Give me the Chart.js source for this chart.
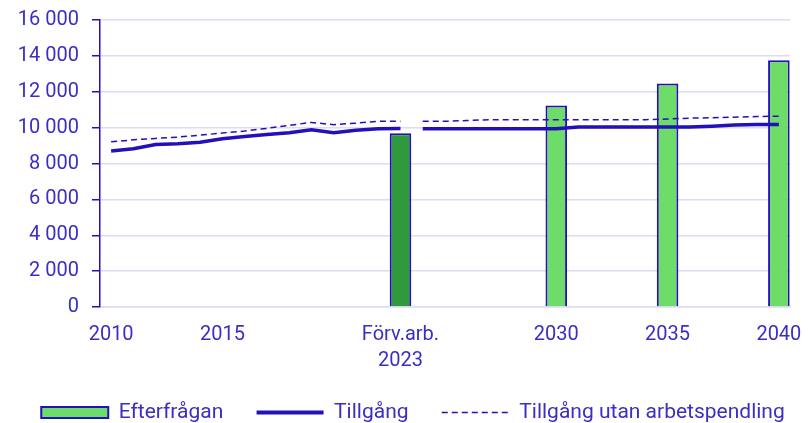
<html>
<head>
<script src="https://cdn.jsdelivr.net/npm/chart.js@4.4.1/dist/chart.umd.min.js"></script>
<style>
body { margin: 0; background: #ffffff; }
</style>
</head>
<body>
<canvas id="chart" width="808" height="423"></canvas>
<script>
var years = [2010, 2011, 2012, 2013, 2014, 2015, 2016, 2017, 2018, 2019, 2020,
             2021, 2022, 2023, 2024, 2025, 2026, 2027, 2028, 2029, 2030,
             2031, 2032, 2033, 2034, 2035, 2036, 2037, 2038, 2039, 2040];

// Efterfrågan (bars), only for 2023 and the forecast years
var demand = [null, null, null, null, null, null, null, null, null, null, null,
              null, null, 9680, null, null, null, null, null, null, 11230,
              null, null, null, null, 12460, null, null, null, null, 13760];

// Tillgång
var supply = [8700, 8820, 9060, 9100, 9190, 9380, 9510, 9620, 9720, 9880, 9720,
              9850, 9940, 9950, 9940, 9940, 9940, 9940, 9940, 9940, 9940,
              10030, 10030, 10030, 10030, 10030, 10030, 10080, 10140, 10170, 10170];

// Tillgång utan arbetspendling
var supplyNoCommute = [9210, 9320, 9400, 9470, 9580, 9700, 9810, 9960, 10130, 10290, 10160,
                       10250, 10350, 10350, 10350, 10350, 10400, 10440, 10440, 10440, 10440,
                       10440, 10440, 10440, 10440, 10480, 10530, 10550, 10580, 10620, 10640];

var tickYears = [2010, 2015, 2023, 2030, 2035, 2040];
var tickLabels = ['2010', '2015', ['Förv.arb.', '2023'], '2030', '2035', '2040'];
var yTicks = [0, 2000, 4000, 6000, 8000, 10000, 12000, 14000, 16000];
var legendNames = ['Efterfrågan', 'Tillgång', 'Tillgång utan arbetspendling'];

var blue = '#2410b8';
var textBlue = '#3a2ec4';
var lightGreen = '#6ddc68';
var darkGreen = '#2f9a3c';
var gridColor = '#dcdcf2';
var breakAfter = years.indexOf(2023); // no line between 2023 and 2024

function gapColor(c) {
  return function(ctx) { return ctx.p0DataIndex === breakAfter ? 'rgba(0,0,0,0)' : c; };
}

var fontFamily = 'Roboto, "Liberation Sans", sans-serif';
var spacer = '      '; // widens the gap between legend items

// nudge the legend a bit down and right, like the original
var legendShift = {
  id: 'legendShift',
  afterLayout: function(chart) {
    var l = chart.legend;
    l.left += 18; l.right += 18;
    l.top += 10; l.bottom += 10;
  }
};

new Chart(document.getElementById('chart'), {
  type: 'bar',
  data: {
    labels: years,
    datasets: [{
      type: 'bar',
      label: legendNames[0],
      data: demand,
      backgroundColor: function(ctx) { return years[ctx.dataIndex] === 2023 ? darkGreen : lightGreen; },
      borderColor: blue,
      borderWidth: 2,
      barPercentage: 1,
      categoryPercentage: 0.97,
      order: 3
    }, {
      type: 'line',
      label: legendNames[1],
      data: supply,
      borderColor: blue,
      borderWidth: 3.5,
      pointRadius: 0,
      tension: 0,
      segment: { borderColor: gapColor(blue) },
      order: 1
    }, {
      type: 'line',
      label: legendNames[2],
      data: supplyNoCommute,
      borderColor: blue,
      borderWidth: 1.5,
      borderDash: [6, 4],
      pointRadius: 0,
      tension: 0,
      segment: { borderColor: gapColor(blue) },
      order: 2
    }]
  },
  plugins: [legendShift],
  options: {
    responsive: false,
    animation: false,
    layout: { padding: { left: 0, right: 18, top: 20, bottom: 0 } },
    plugins: {
      tooltip: { enabled: false },
      legend: {
        position: 'bottom',
        labels: {
          usePointStyle: true,
          pointStyleWidth: 67,
          boxHeight: 11,
          padding: 2,
          color: textBlue,
          font: { family: fontFamily, size: 21 },
          generateLabels: function(chart) {
            return [{
              text: legendNames[0] + spacer, fillStyle: lightGreen, strokeStyle: blue,
              lineWidth: 2, pointStyle: 'rect', datasetIndex: 0, fontColor: textBlue
            }, {
              text: legendNames[1] + spacer, fillStyle: blue, strokeStyle: blue,
              lineWidth: 4, pointStyle: 'line', datasetIndex: 1, fontColor: textBlue
            }, {
              text: legendNames[2], fillStyle: blue, strokeStyle: blue,
              lineWidth: 1.5, lineDash: [6, 4], pointStyle: 'line', datasetIndex: 2, fontColor: textBlue
            }];
          }
        }
      }
    },
    scales: {
      x: {
        offset: true,
        grid: { display: false, drawTicks: false },
        border: { display: true, color: gridColor, width: 1.5 },
        ticks: {
          autoSkip: false,
          maxRotation: 0,
          padding: 15,
          color: textBlue,
          font: { family: fontFamily, size: 20, lineHeight: 1.3 },
          callback: function(value, index) {
            var i = tickYears.indexOf(years[index]);
            return i >= 0 ? tickLabels[i] : '';
          }
        },
        afterFit: function(scale) {
          scale.height = 83;
          scale.paddingRight = 0;
          scale.paddingLeft = 0;
        }
      },
      y: {
        min: 0,
        max: 16000,
        afterBuildTicks: function(scale) {
          scale.ticks = yTicks.map(function(v) { return { value: v }; });
        },
        grid: { color: gridColor, lineWidth: 1.5, tickColor: blue, tickLength: 8, tickWidth: 1.5 },
        border: { display: true, color: blue, width: 1.5 },
        ticks: {
          padding: 13,
          color: textBlue,
          font: { family: fontFamily, size: 20 },
          callback: function(v) { return String(v).replace(/\B(?=(\d{3})+(?!\d))/g, ' '); }
        },
        afterFit: function(scale) {
          scale.width = 100;
          scale.paddingTop = 0;
          scale.paddingBottom = 0;
        }
      }
    }
  }
});
</script>
</body>
</html>
